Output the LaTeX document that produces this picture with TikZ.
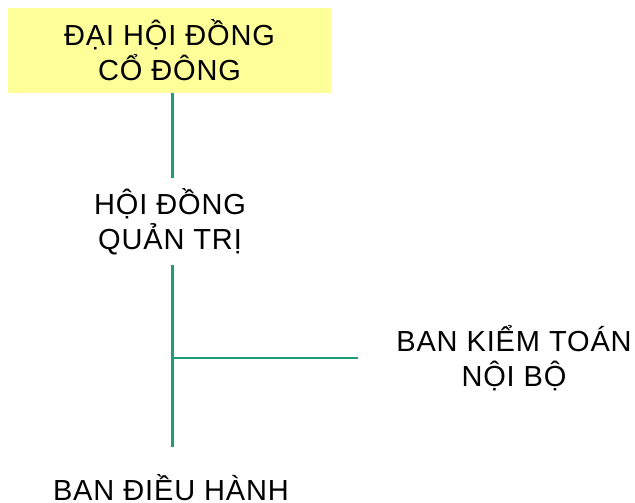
\documentclass[tikz,border=0pt]{standalone}
\usepackage{fontspec}
\setmainfont{Liberation Sans}[LetterSpace=3]
\definecolor{boardyellow}{RGB}{255,255,153}
\definecolor{linkgreen}{RGB}{30,158,118}
\begin{document}
\begin{tikzpicture}[x=1pt,y=-1pt,
  orgtext/.style={font=\fontsize{29}{35}\selectfont, align=center, inner sep=0pt},
  link/.style={draw=linkgreen, line width=2.6pt}]
\useasboundingbox (0,0) rectangle (635,503);

% organisation units
\node[orgtext, fill=boardyellow, minimum width=323pt, minimum height=85pt]
  (dhcd) at (169.5,50.5) {ĐẠI HỘI ĐỒNG\\CỔ ĐÔNG};
\node[orgtext, minimum height=87pt] (hdqt) at (170,221.5) {HỘI ĐỒNG\\QUẢN TRỊ};
\node[orgtext, inner xsep=38pt] (bkt) at (514,358) {BAN KIỂM TOÁN\\NỘI BỘ};
\node[orgtext, anchor=base, text height=20pt, text depth=3pt, inner ysep=33pt]
  (bdh) at (171,500) {BAN ĐIỀU HÀNH};

% reporting lines
\coordinate (trunk) at (172.5,0);
\draw[link] (dhcd.south -| trunk) -- (hdqt.north -| trunk);
\draw[link] (hdqt.south -| trunk) -- (bdh.north -| trunk);
\draw[link] (trunk |- bkt.west) -- (bkt.west);
\end{tikzpicture}
\end{document}
